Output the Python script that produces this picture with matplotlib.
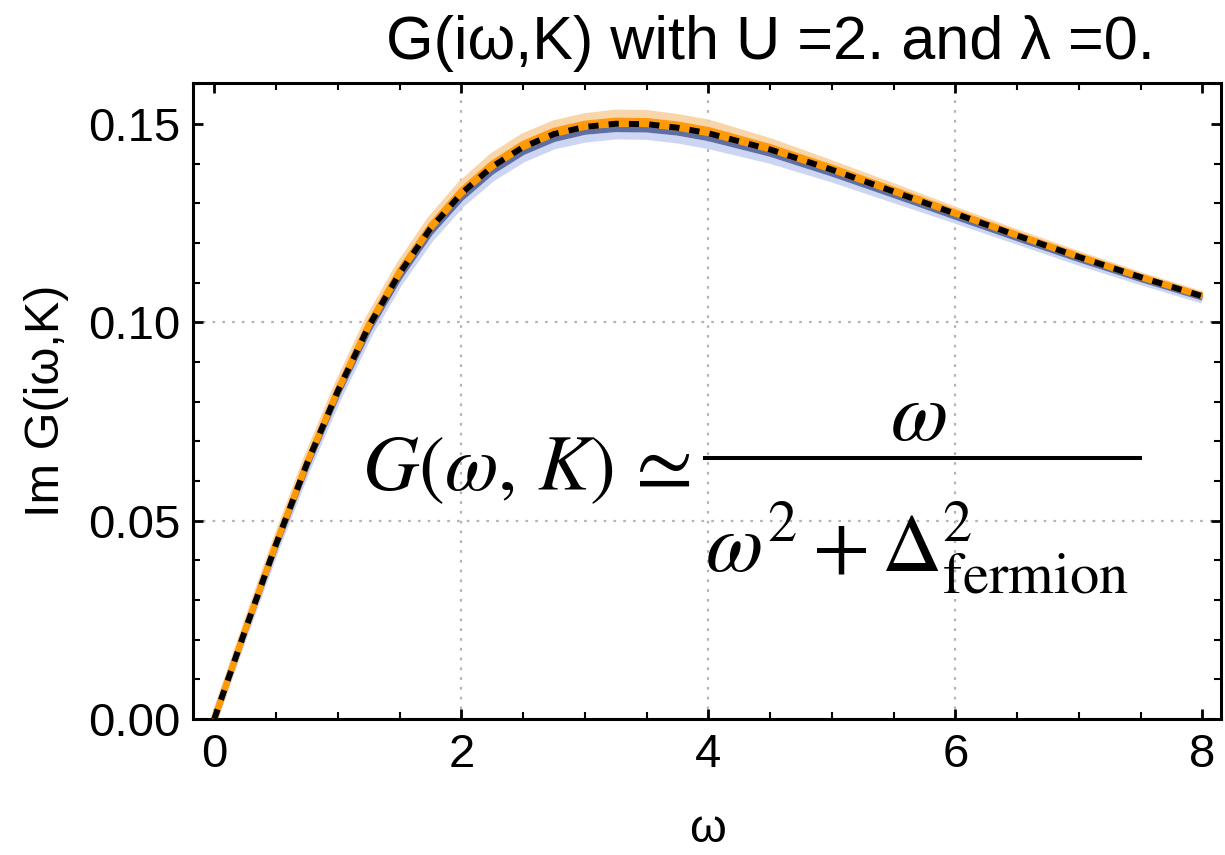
import matplotlib
matplotlib.use("Agg")
import matplotlib.pyplot as plt
from matplotlib.ticker import MultipleLocator, FixedLocator, FixedFormatter
from matplotlib.lines import Line2D

plt.rcParams['font.family'] = ['Liberation Sans', 'DejaVu Sans']
plt.rcParams['mathtext.fontset'] = 'stix'

# ---- data ----
omega = [0, 0.25, 0.5, 0.75, 1.0, 1.25, 1.5, 1.75, 2.0, 2.25, 2.5, 2.75, 3.0,
         3.25, 3.5, 3.75, 4.0, 4.5, 5.0, 5.5, 6.0, 6.5, 7.0, 7.5, 8.0]

g_center = [0, 0.0224, 0.0441, 0.0644, 0.0827, 0.0990, 0.1124, 0.1237, 0.1325,
            0.1393, 0.1442, 0.1475, 0.1493, 0.1501, 0.1500, 0.1491, 0.1477,
            0.1436, 0.1385, 0.1330, 0.1274, 0.1219, 0.1165, 0.1114, 0.1066]

g_light_blue = [0, 0.0220, 0.0432, 0.0631, 0.0810, 0.0970, 0.1102, 0.1212, 0.1299,
                0.1365, 0.1413, 0.1446, 0.1463, 0.1471, 0.1470, 0.1461, 0.1447,
                0.1410, 0.1363, 0.1311, 0.1259, 0.1206, 0.1153, 0.1104, 0.1057]

g_dark_blue = [0, 0.0222, 0.0437, 0.0638, 0.0820, 0.0981, 0.1114, 0.1226, 0.1313,
               0.1380, 0.1429, 0.1462, 0.1480, 0.1487, 0.1486, 0.1478, 0.1464,
               0.1425, 0.1375, 0.1321, 0.1266, 0.1212, 0.1159, 0.1109, 0.1062]

g_orange = [0, 0.0225, 0.0444, 0.0648, 0.0832, 0.0996, 0.1131, 0.1244, 0.1333,
            0.1401, 0.1451, 0.1484, 0.1502, 0.1510, 0.1509, 0.1500, 0.1486,
            0.1443, 0.1391, 0.1335, 0.1278, 0.1222, 0.1168, 0.1116, 0.1068]

g_light_orange = [0, 0.0228, 0.0448, 0.0655, 0.0841, 0.1007, 0.1143, 0.1258, 0.1348,
                  0.1417, 0.1467, 0.1500, 0.1518, 0.1527, 0.1526, 0.1516, 0.1502,
                  0.1455, 0.1399, 0.1341, 0.1282, 0.1225, 0.1170, 0.1117, 0.1069]

x_ticks = [0, 2, 4, 6, 8]
x_tick_labels = ["0", "2", "4", "6", "8"]
y_ticks = [0.0, 0.05, 0.10, 0.15]
y_tick_labels = ["0.00", "0.05", "0.10", "0.15"]
grid_x = [2, 4, 6]
grid_y = [0.05, 0.10]

title = "G(iω,K) with U =2. and λ =0."
xlabel = "ω"
ylabel = "Im G(iω,K)"

# ---- figure ----
W, H = 1225, 855
fig = plt.figure(figsize=(W / 100, H / 100), dpi=100)
L, R, T, B = 193.3, 1221, 83.3, 719
ax = fig.add_axes([L / W, 1 - B / H, (R - L) / W, (B - T) / H])
ax.set_xlim(-0.17, 8.15)
ax.set_ylim(0, 0.1603)

grid_style = dict(color='#b4b4b4', lw=1.6, linestyle=(0, (1.2, 3.2)), zorder=1)
for gx in grid_x:
    ax.axvline(gx, **grid_style)
for gy in grid_y:
    ax.axhline(gy, **grid_style)

# band of curves
ax.plot(omega, g_light_blue, color='#c3cff2', lw=5.5, alpha=0.85, solid_capstyle='butt', zorder=2)
ax.plot(omega, g_light_orange, color='#f9cf9a', lw=5.5, alpha=0.85, solid_capstyle='butt', zorder=2)
ax.plot(omega, g_dark_blue, color='#5f6fa3', lw=4.0, solid_capstyle='butt', zorder=3)
ax.plot(omega, g_orange, color='#ff9a10', lw=4.0, solid_capstyle='butt', zorder=3)
ax.plot(omega, g_center, color='#ff9900', lw=4.3, solid_capstyle='butt', zorder=4)
ax.plot(omega, g_center, color='black', lw=4.3, linestyle=(0, (1.7, 1.7)),
        dash_capstyle='butt', zorder=5)

# ticks / spines
for s in ax.spines.values():
    s.set_linewidth(2.2)
ax.xaxis.set_major_locator(FixedLocator(x_ticks))
ax.xaxis.set_major_formatter(FixedFormatter(x_tick_labels))
ax.xaxis.set_minor_locator(MultipleLocator(0.5))
ax.yaxis.set_major_locator(FixedLocator(y_ticks))
ax.yaxis.set_major_formatter(FixedFormatter(y_tick_labels))
ax.yaxis.set_minor_locator(MultipleLocator(0.01))
ax.tick_params(which='both', direction='in', top=True, right=True)
ax.tick_params(which='major', length=7.5, width=2.0, labelsize=34)
ax.tick_params(which='minor', length=5, width=1.5)
ax.tick_params(axis='x', which='major', pad=10)
ax.tick_params(axis='y', which='major', pad=9)

ax.set_xlabel(xlabel, fontsize=34)
ax.xaxis.set_label_coords(0.5, -0.175)
ax.xaxis.label.set_va('center')
ax.set_ylabel(ylabel, fontsize=35)
ax.yaxis.set_label_coords(-0.143, 0.5)
ax.yaxis.label.set_va('center')

fig.text(770 / W, 1 - 43 / H, title, fontsize=44, ha='center', va='center')

# formula annotation
fig.text(362 / W, 1 - 490 / H, r'$G(\omega,\,K)$', fontsize=56,
         ha='left', va='baseline')
fig.text(657 / W, 1 - 490 / H, r'$\simeq$', fontsize=60, ha='center', va='baseline')
fig.text(918 / W, 1 - 440 / H, r'$\omega$', fontsize=60, ha='center', va='baseline')
fig.text(705 / W, 1 - 571 / H, r'$\omega^{2}+\Delta^{2}_{\mathrm{fermion}}$', fontsize=60,
         ha='left', va='baseline')
fig.add_artist(Line2D([705 / W, 1140 / W], [1 - 458 / H, 1 - 458 / H],
                      transform=fig.transFigure, color='black', lw=2.9))

fig.savefig("out.png", dpi=100)
